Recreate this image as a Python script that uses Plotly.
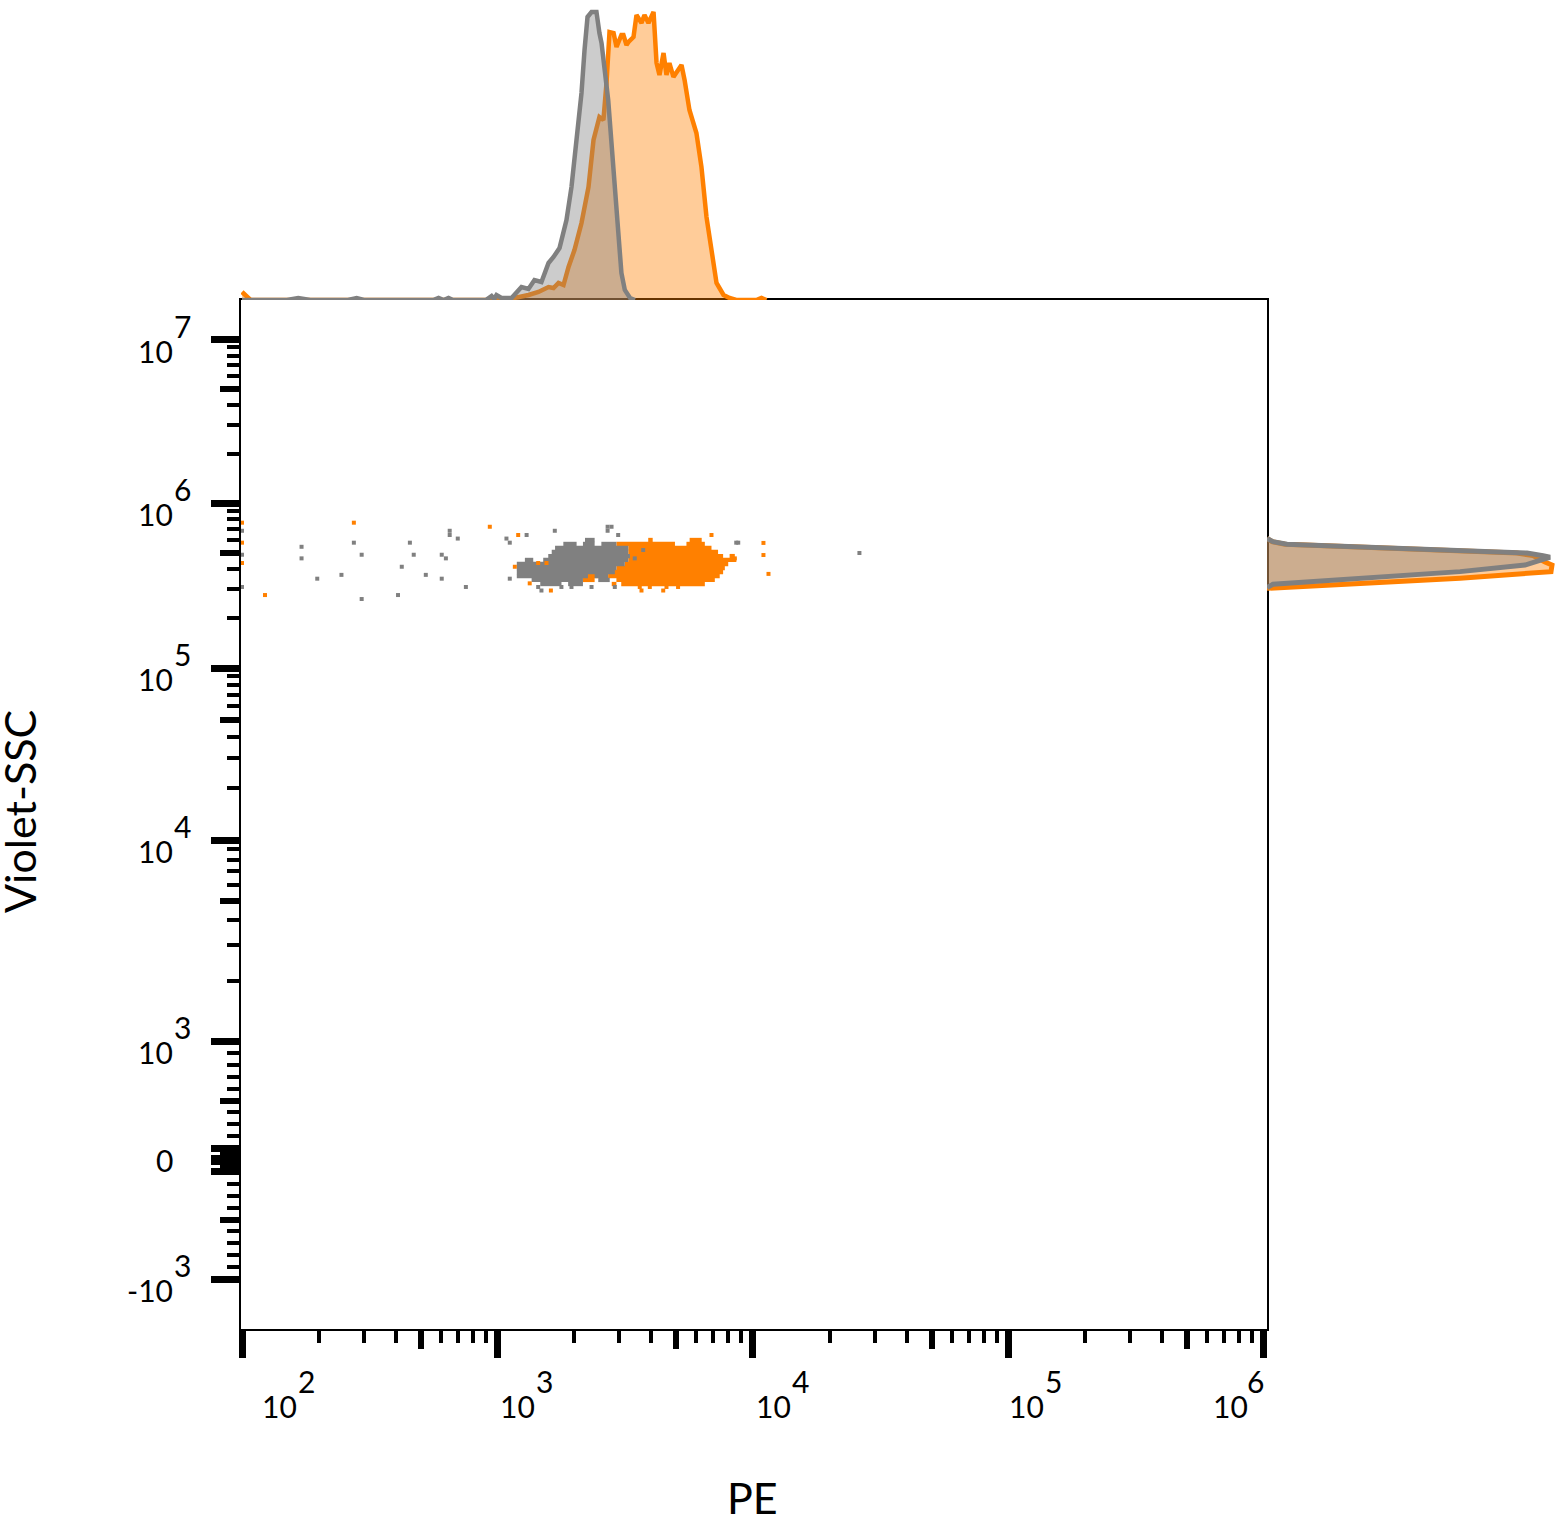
import numpy as np
import plotly.graph_objects as go

# ---------------- data ----------------
# Dense population drawn as rows of binned pixels: SSC level of row, PE start, PE end
GRAY_ROW_SSC = [5.97e5, 5.65e5, 5.65e5, 5.65e5, 5.34e5, 5.05e5, 4.77e5, 4.52e5, 4.52e5,
                4.27e5, 4.04e5, 3.82e5, 3.61e5, 3.61e5, 3.42e5, 3.42e5, 3.23e5, 3.23e5]
GRAY_ROW_PE_LO = [2200, 1810, 2160, 2550, 1680, 1630, 1580, 1280, 1510,
                  1190, 1190, 1190, 1190, 2400, 1360, 2480, 1470, 1890]
GRAY_ROW_PE_HI = [2400, 2040, 2400, 2920, 3250, 3250, 3300, 1380, 3250,
                  3150, 2920, 2880, 2260, 2710, 2160, 2750, 1780, 2160]

ORANGE_ROW_SSC = [5.97e5, 5.97e5, 5.65e5, 5.65e5, 5.34e5, 5.05e5, 4.77e5, 4.77e5, 4.52e5,
                  4.27e5, 4.04e5, 3.82e5, 3.61e5, 3.61e5, 3.42e5, 3.42e5, 3.23e5, 3.23e5]
ORANGE_ROW_PE_LO = [3890, 5650, 2920, 5490, 3250, 3250, 3300, 8100, 3250,
                    3150, 2920, 2800, 2200, 2710, 2160, 2920, 2800, 3050]
ORANGE_ROW_PE_HI = [4050, 6300, 4950, 6480, 6880, 7300, 7640, 8490, 8610,
                    8000, 7760, 7640, 2480, 7410, 2400, 7090, 2920, 6480]

# Sparse events
GRAY_PT_PE = [100, 100, 100, 171, 171, 197, 245, 274, 294, 294, 408, 422, 454, 470, 524,
              605, 628, 605, 650, 650, 699, 752, 1084, 1117, 1117, 1300, 1443, 1486,
              1676, 1779, 1948, 2334, 2698, 2698, 2795, 2878, 2967, 3445, 3718,
              8600, 8755, 26100]
GRAY_PT_SSC = [6.79e5, 4.86e5, 3.10e5, 5.43e5, 4.62e5, 3.48e5, 3.67e5, 5.75e5, 4.86e5, 2.62e5,
               2.77e5, 4.11e5, 5.75e5, 4.86e5, 3.67e5, 4.86e5, 4.62e5, 3.48e5, 6.79e5, 6.40e5,
               6.09e5, 3.10e5, 6.09e5, 5.75e5, 3.48e5, 6.40e5, 3.10e5, 2.95e5, 6.79e5, 3.10e5,
               3.10e5, 3.10e5, 7.18e5, 6.79e5, 7.18e5, 3.10e5, 6.40e5, 4.62e5, 5.19e5,
               5.75e5, 5.75e5, 4.98e5]

ORANGE_PT_PE = [100, 100, 100, 123, 274, 933, 1169, 1205, 1337, 1443, 1555, 1618,
                3604, 3661, 3946, 4453, 4586, 5091, 6880, 8490, 10990, 10990, 11500]
ORANGE_PT_SSC = [7.60e5, 5.75e5, 4.33e5, 2.77e5, 7.60e5, 7.18e5, 4.11e5, 6.40e5, 3.26e5,
                 4.33e5, 4.33e5, 2.95e5, 3.10e5, 2.95e5, 3.10e5, 2.95e5, 3.10e5, 3.10e5,
                 6.40e5, 4.62e5, 5.73e5, 4.84e5, 3.72e5]

# Top histogram (PE)
TOP_GRAY_PE = [100, 150, 166, 185, 260, 281, 300, 560, 588, 615, 643, 670, 900, 948, 970, 991,
               1037, 1135, 1241, 1322, 1395, 1486, 1584, 1657, 1749, 1862, 1948, 2039, 2132,
               2191, 2251, 2334, 2440, 2506, 2554, 2712, 2838, 2966, 3055, 3150, 3302, 3450]
TOP_GRAY_COUNT = [0, 0, 2, 0, 0, 2, 0, 0, 2, 0, 2, 0, 0, 4, 1, 5,
                  2, 2, 13, 11, 20, 18, 37, 43, 52, 80, 113, 157, 207,
                  250, 283, 288, 288, 267, 257, 200, 133, 67, 27, 10, 2, 0]

TOP_ORANGE_PE = [100, 108, 1100, 1166, 1322, 1446, 1584, 1657, 1733, 1813, 1897, 2001, 2132,
                 2271, 2376, 2440, 2506, 2598, 2671, 2744, 2795, 2847, 2923, 3055, 3111, 3198,
                 3257, 3407, 3500, 3661, 3761, 3898, 4081, 4193, 4305, 4466, 4586, 4709, 4883,
                 5020, 5251, 5398, 5640, 6006, 6285, 6577, 6880, 7199, 7669, 8094, 8600,
                 10300, 10790, 11300]
TOP_ORANGE_COUNT = [8, 0, 0, 2, 5, 8, 13, 12, 17, 15, 33, 50, 77,
                    113, 160, 173, 183, 180, 217, 268, 268, 267, 253, 265, 265, 255,
                    258, 263, 285, 277, 285, 277, 288, 237, 225, 247, 225, 237, 223,
                    228, 235, 220, 190, 167, 133, 83, 47, 17, 5, 2, 0,
                    0, 2, 0]

# Right histogram (Violet-SSC)
RIGHT_GRAY_SSC = [6.11e5, 5.83e5, 5.62e5, 5.43e5, 5.19e5, 4.98e5, 4.80e5, 4.69e5, 4.56e5,
                  4.39e5, 4.21e5, 3.84e5, 3.50e5, 3.31e5, 3.22e5, 3.07e5]
RIGHT_GRAY_COUNT = [0, 6, 20, 93, 193, 260, 276, 283, 276, 266, 258, 193, 93, 20, 6, 0]
RIGHT_ORANGE_SSC = [6.11e5, 5.83e5, 5.62e5, 5.43e5, 5.19e5, 4.98e5, 4.80e5, 4.56e5, 4.39e5,
                    4.21e5, 4.04e5, 3.84e5, 3.50e5, 3.26e5, 3.11e5, 3.04e5]
RIGHT_ORANGE_COUNT = [0, 5, 18, 85, 185, 250, 266, 272, 278, 285, 285, 284, 193, 93, 20, 0]

# Axis ticks and labels
X_MAJOR = [1e2, 1e3, 1e4, 1e5, 1e6]
X_LABEL_BASE = ["10", "10", "10", "10", "10"]
X_LABEL_EXP = ["2", "3", "4", "5", "6"]
X_MEDIUM = [5e2, 5e3, 5e4, 5e5]
X_MINOR = [k * 10 ** d for d in range(2, 6) for k in (2, 3, 4, 6, 7, 8, 9)]

Y_MAJOR = [1e7, 1e6, 1e5, 1e4, 1e3, 100, 10, 0, -10, -100, -1e3]
Y_LABEL_VALS = [1e7, 1e6, 1e5, 1e4, 1e3, 0, -1e3]
Y_LABEL_BASE = ["10", "10", "10", "10", "10", "0", "-10"]
Y_LABEL_EXP = ["7", "6", "5", "4", "3", "", "3"]
Y_MEDIUM = [5e6, 5e5, 5e4, 5e3, 500, 50, -50, -500]
Y_MINOR = ([k * 10 ** d for d in range(1, 7) for k in (2, 3, 4, 6, 7, 8, 9)]
           + [-k * 10 ** d for d in range(1, 3) for k in (2, 3, 4, 6, 7, 8, 9)])

# ---------------- biexponential display scale for Violet-SSC ----------------
LOG_ANCHORS = [3.0, 4.0, 5.0, 6.0, 7.0]
DISP_ANCHORS = [1.0, 2.689, 4.134, 5.521, 6.891]


def biex(v):
    v = np.asarray(v, dtype=float)
    a = np.abs(v)
    logpart = np.interp(np.log10(np.maximum(a, 1000.0)), LOG_ANCHORS, DISP_ANCHORS)
    out = np.where(a <= 1000.0, a / 1000.0, logpart)
    return np.sign(v) * out


def segments(ys, x0s, x1s):
    xs, yy = [], []
    for y, a, b in zip(ys, x0s, x1s):
        xs += [a, b, None]
        yy += [float(biex(y)), float(biex(y)), None]
    return xs, yy


W, H = 1562, 1517
L_PX, R_PX, T_PX, B_PX = 241, 1267, 300, 1329
XDOM = [L_PX / W, R_PX / W]
YDOM = [(H - B_PX) / H, (H - T_PX) / H]
XRANGE = [1.996, 6.012]
YRANGE = [-1.42, 7.227]

GRAY = "#808080"
ORANGE = "#ff8000"
FONT = "Lato"
TICKFS = 30

fig = go.Figure()

# ---- scatter: dense populations ----
ox, oy = segments(ORANGE_ROW_SSC, ORANGE_ROW_PE_LO, ORANGE_ROW_PE_HI)
fig.add_trace(go.Scatter(x=ox, y=oy, mode="lines", line=dict(color=ORANGE, width=4.3),
                         connectgaps=False, hoverinfo="skip", xaxis="x", yaxis="y"))
gx, gy = segments(GRAY_ROW_SSC, GRAY_ROW_PE_LO, GRAY_ROW_PE_HI)
fig.add_trace(go.Scatter(x=gx, y=gy, mode="lines", line=dict(color=GRAY, width=4.3),
                         connectgaps=False, hoverinfo="skip", xaxis="x", yaxis="y"))
fig.add_trace(go.Scatter(x=GRAY_PT_PE, y=biex(GRAY_PT_SSC), mode="markers",
                         marker=dict(symbol="square", size=4, color=GRAY, line=dict(width=0)),
                         xaxis="x", yaxis="y"))
fig.add_trace(go.Scatter(x=ORANGE_PT_PE, y=biex(ORANGE_PT_SSC), mode="markers",
                         marker=dict(symbol="square", size=4, color=ORANGE, line=dict(width=0)),
                         xaxis="x", yaxis="y"))

# ---- top histogram ----
fig.add_trace(go.Scatter(x=TOP_ORANGE_PE, y=TOP_ORANGE_COUNT, mode="lines",
                         line=dict(color=ORANGE, width=4.5), fill="tozeroy",
                         fillcolor="rgba(255,128,0,0.4)", xaxis="x2", yaxis="y2"))
fig.add_trace(go.Scatter(x=TOP_GRAY_PE, y=TOP_GRAY_COUNT, mode="lines",
                         line=dict(color=GRAY, width=4.5), fill="tozeroy",
                         fillcolor="rgba(128,128,128,0.4)", xaxis="x2", yaxis="y2"))

# ---- right histogram ----
fig.add_trace(go.Scatter(x=RIGHT_ORANGE_COUNT, y=biex(RIGHT_ORANGE_SSC), mode="lines",
                         line=dict(color=ORANGE, width=5), fill="tozerox",
                         fillcolor="rgba(255,128,0,0.4)", xaxis="x3", yaxis="y3"))
fig.add_trace(go.Scatter(x=RIGHT_GRAY_COUNT, y=biex(RIGHT_GRAY_SSC), mode="lines",
                         line=dict(color=GRAY, width=5), fill="tozerox",
                         fillcolor="rgba(128,128,128,0.4)", xaxis="x3", yaxis="y3"))

# ---- empty traces to carry the medium-tick overlay axes ----
fig.add_trace(go.Scatter(x=[], y=[], xaxis="x4", yaxis="y", showlegend=False))
fig.add_trace(go.Scatter(x=[], y=[], xaxis="x", yaxis="y4", showlegend=False))

ytv = [float(v) for v in biex(Y_MAJOR)]
ymed = [float(v) for v in biex(Y_MEDIUM)]
ymin = [float(v) for v in biex(Y_MINOR)]

fig.update_layout(
    width=W, height=H, autosize=False,
    margin=dict(l=0, r=0, t=0, b=0),
    paper_bgcolor="white", plot_bgcolor="rgba(0,0,0,0)",
    showlegend=False,
    font=dict(family=FONT, size=TICKFS, color="black"),
    xaxis=dict(type="log", domain=XDOM, range=XRANGE, anchor="y",
               showline=True, linecolor="black", linewidth=2, mirror=True,
               showgrid=False, zeroline=False,
               ticks="outside", tickmode="array", tickvals=X_MAJOR,
               ticklen=27, tickwidth=7, tickcolor="black", showticklabels=False,
               minor=dict(tickmode="array", tickvals=X_MINOR, ticks="outside",
                          ticklen=12, tickwidth=3.5, tickcolor="black", showgrid=False)),
    yaxis=dict(domain=YDOM, range=YRANGE, anchor="x",
               showline=True, linecolor="black", linewidth=2, mirror=True,
               showgrid=False, zeroline=False,
               ticks="outside", tickmode="array", tickvals=ytv,
               ticklen=28, tickwidth=7, tickcolor="black", showticklabels=False,
               minor=dict(tickmode="array", tickvals=ymin, ticks="outside",
                          ticklen=12, tickwidth=3.5, tickcolor="black", showgrid=False)),
    xaxis4=dict(type="log", overlaying="x", range=XRANGE, anchor="y", side="bottom",
                showline=False, showgrid=False, zeroline=False,
                ticks="outside", tickmode="array", tickvals=X_MEDIUM,
                ticklen=19, tickwidth=5.5, tickcolor="black", showticklabels=False),
    yaxis4=dict(overlaying="y", range=YRANGE, anchor="x", side="left",
                showline=False, showgrid=False, zeroline=False,
                ticks="outside", tickmode="array", tickvals=ymed,
                ticklen=20, tickwidth=5.5, tickcolor="black", showticklabels=False),
    xaxis2=dict(type="log", domain=XDOM, range=XRANGE, anchor="y2", visible=False),
    yaxis2=dict(domain=[YDOM[1], 1.0], range=[0, 300], anchor="x2", visible=False),
    xaxis3=dict(domain=[XDOM[1], 1.0], range=[0, 295], anchor="y3", visible=False),
    yaxis3=dict(domain=YDOM, range=YRANGE, anchor="x3", visible=False),
)

tf = dict(family=FONT, size=TICKFS, color="black")
ann = []
# x tick labels: base "10" and full-size raised exponent, beside each tick
X_BASE_SHIFT = [19, 1, 2, 0, None]
for i, (v, b, e) in enumerate(zip(X_MAJOR, X_LABEL_BASE, X_LABEL_EXP)):
    xv = float(np.log10(v))
    if X_BASE_SHIFT[i] is None:
        ann.append(dict(x=xv, xref="x", y=(H - 1381) / H, yref="paper", text=e,
                        showarrow=False, xanchor="right", yanchor="middle", xshift=1,
                        borderpad=0, font=tf))
        ann.append(dict(x=xv, xref="x", y=(H - 1406) / H, yref="paper", text=b,
                        showarrow=False, xanchor="right", yanchor="middle", xshift=-15,
                        borderpad=0, font=tf))
    else:
        s = X_BASE_SHIFT[i]
        ann.append(dict(x=xv, xref="x", y=(H - 1406) / H, yref="paper", text=b,
                        showarrow=False, xanchor="left", yanchor="middle", xshift=s,
                        borderpad=0, font=tf))
        ann.append(dict(x=xv, xref="x", y=(H - 1381) / H, yref="paper", text=e,
                        showarrow=False, xanchor="left", yanchor="middle", xshift=s + 36,
                        borderpad=0, font=tf))
# y tick labels
for v, b, e in zip(Y_LABEL_VALS, Y_LABEL_BASE, Y_LABEL_EXP):
    yv = float(biex(v))
    ann.append(dict(x=174 / W, xref="paper", y=yv, yref="y", text=b, showarrow=False,
                    xanchor="right", yanchor="middle", yshift=(0 if e == "" else -11),
                    borderpad=0, font=tf))
    if e:
        ann.append(dict(x=173 / W, xref="paper", y=yv, yref="y", text=e, showarrow=False,
                        xanchor="left", yanchor="middle", yshift=14,
                        borderpad=0, font=tf))
# axis titles
ann.append(dict(x=752 / W, xref="paper", y=(H - 1497) / H, yref="paper", text="PE",
                showarrow=False, xanchor="center", yanchor="middle", borderpad=0,
                font=dict(family=FONT, size=43, color="black")))
ann.append(dict(x=20 / W, xref="paper", y=(H - 812) / H, yref="paper", text="Violet-SSC",
                showarrow=False, xanchor="center", yanchor="middle", textangle=-90,
                borderpad=0, font=dict(family=FONT, size=43, color="black")))
fig.update_layout(annotations=ann)

fig.write_html("out.html", config={"displayModeBar": False},
               post_script="document.body.style.margin='0px';")
